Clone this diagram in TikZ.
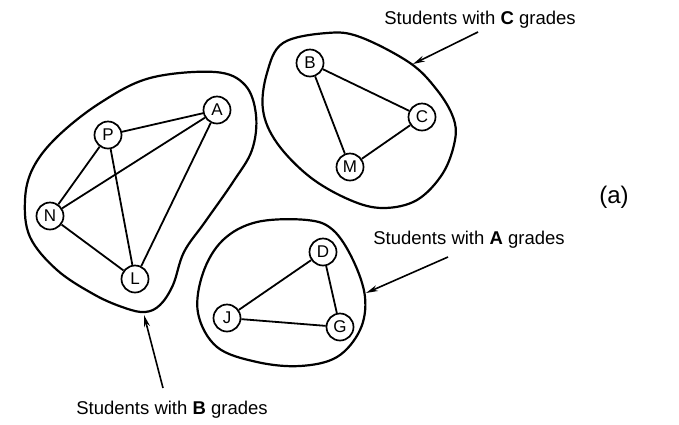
\documentclass[tikz,border=0pt]{standalone}
\usepackage{fontspec}
\setmainfont{Liberation Sans}
\usetikzlibrary{arrows.meta}
\begin{document}
\begin{tikzpicture}[x=1pt,y=-1pt,
  vert/.style={circle,draw,line width=1.7pt,minimum size=27pt,inner sep=0pt,font=\fontsize{17}{17}\selectfont,fill=white},
  edge/.style={line width=1.8pt},
  blob/.style={line width=2.2pt},
  lbl/.style={font=\fontsize{18.5}{20}\selectfont,inner sep=0pt},
  ptr/.style={line width=1.6pt,-{Stealth[length=12pt,width=6pt]}}]
\useasboundingbox (0,0) rectangle (679,424);
% blobs
\draw[blob] plot[smooth cycle,tension=0.6] coordinates {(215,72) (245,85) (256,115) (252,150) (233,182) (205,222) (184,252) (173,285) (160,305) (145,312) (125,308) (95,295) (57,270) (30,237) (25,200) (33,168) (57,137) (100,103) (150,78)};
\draw[blob] plot[smooth cycle,tension=0.6] coordinates {(283,43) (327,33) (360,37) (410,63) (437,90) (453,117) (455,140) (443,173) (417,200) (383,208) (350,200) (310,177) (277,143) (263,110) (267,73)};
\draw[blob] plot[smooth cycle,tension=0.6] coordinates {(223,240) (257,222) (307,220) (333,230) (353,260) (365,297) (360,330) (337,357) (300,366) (257,362) (217,347) (198,313) (203,273)};
% vertices
\node[vert] (A) at (217,110) {A};
\node[vert] (P) at (108,135) {P};
\node[vert] (N) at (50,216) {N};
\node[vert] (L) at (135,279) {L};
\node[vert] (B) at (310,63) {B};
\node[vert] (C) at (422,117) {C};
\node[vert] (M) at (350,167) {M};
\node[vert] (D) at (323,252) {D};
\node[vert] (J) at (227,318) {J};
\node[vert] (G) at (340,327) {G};
% edges
\draw[edge] (P) -- (A);
\draw[edge] (P) -- (N);
\draw[edge] (P) -- (L);
\draw[edge] (N) -- (A);
\draw[edge] (N) -- (L);
\draw[edge] (L) -- (A);
\draw[edge] (B) -- (C);
\draw[edge] (B) -- (M);
\draw[edge] (M) -- (C);
\draw[edge] (D) -- (J);
\draw[edge] (D) -- (G);
\draw[edge] (J) -- (G);
% labels
\node[lbl] (tC) at (480,20) {Students with \textbf{C} grades};
\node[lbl] (tA) at (469,240) {Students with \textbf{A} grades};
\node[lbl] (tB) at (172,410) {Students with \textbf{B} grades};
\node[font=\fontsize{24}{26}\selectfont] (ta) at (614,197) {(a)};
% pointers
\coordinate (sC) at (478,32);
\coordinate (eC) at (413,64);
\coordinate (sA) at (448,257);
\coordinate (eA) at (366,293);
\coordinate (sB) at (163,388);
\coordinate (eB) at (144,315);
\draw[ptr] (sC) -- (eC);
\draw[ptr] (sA) -- (eA);
\draw[ptr] (sB) -- (eB);
\end{tikzpicture}
\end{document}
